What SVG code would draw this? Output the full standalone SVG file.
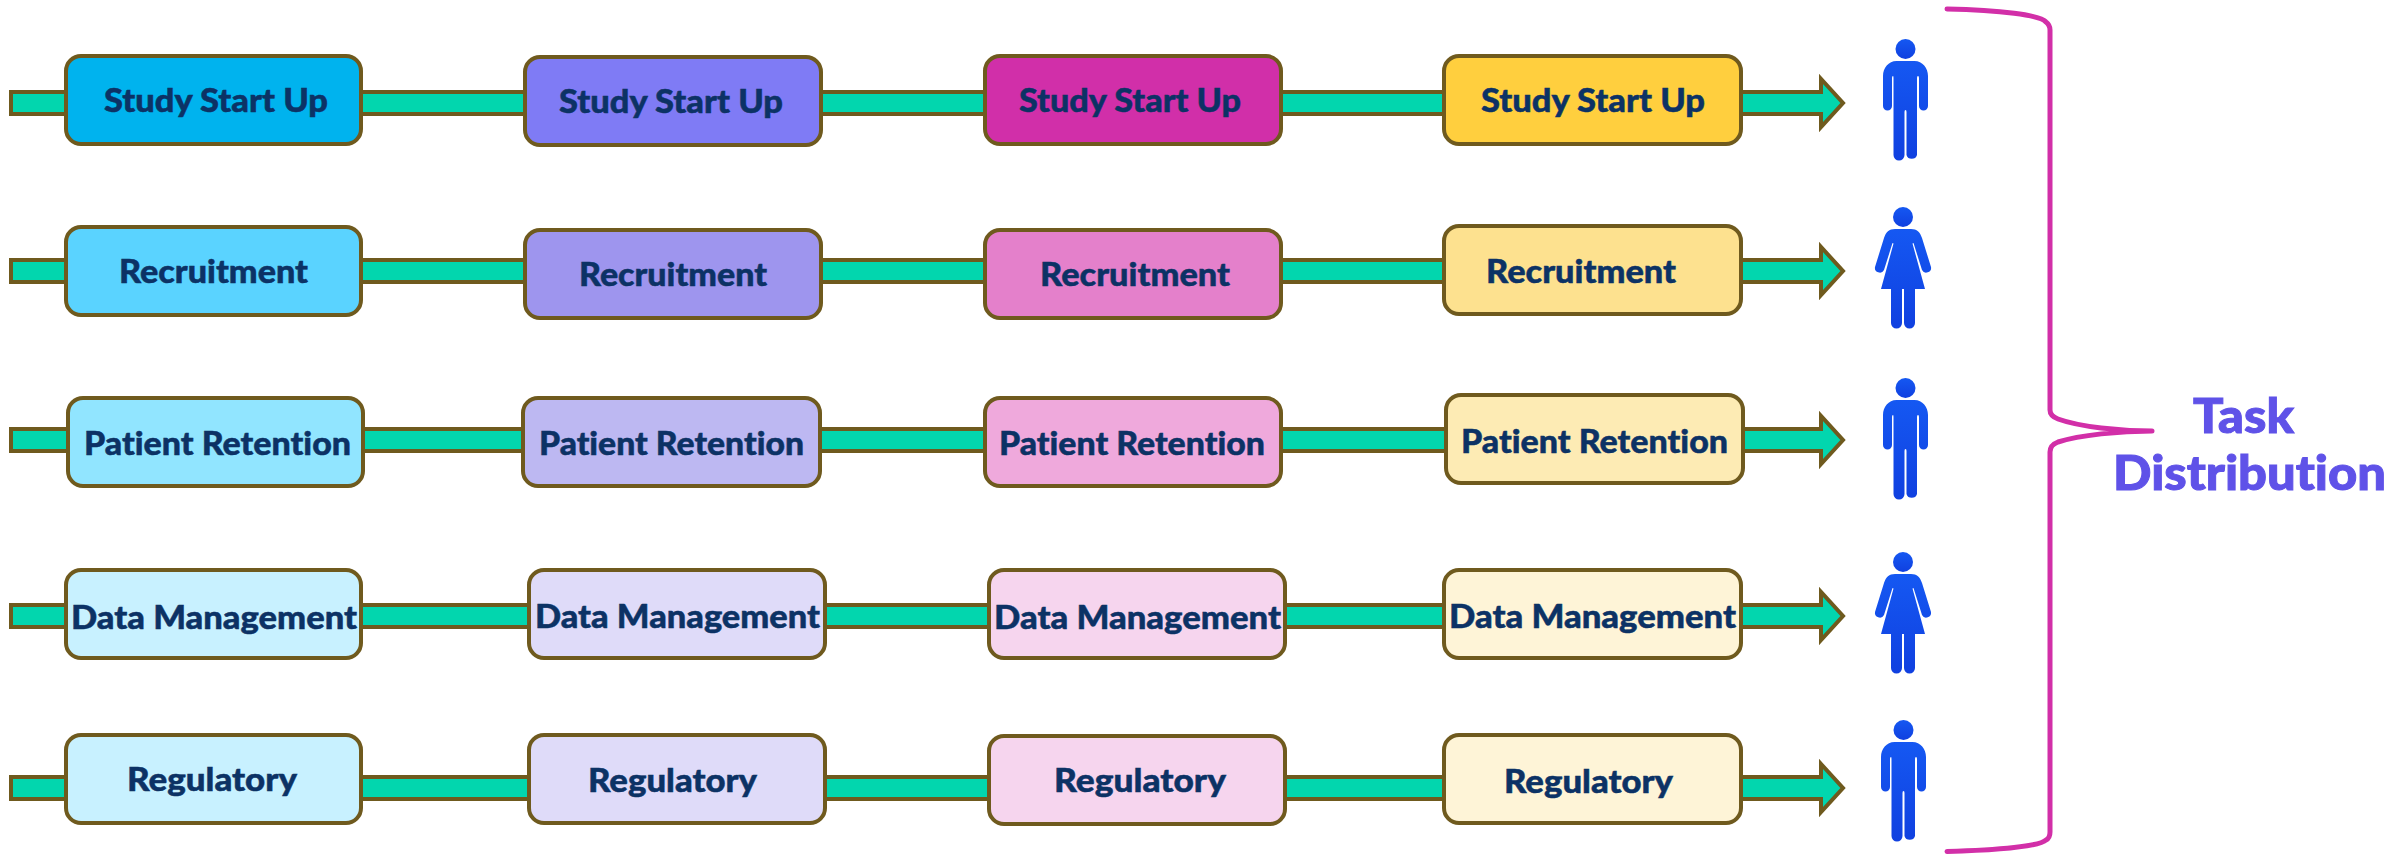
<svg xmlns="http://www.w3.org/2000/svg" width="2402" height="854" viewBox="0 0 2402 854">
<style>
.box{stroke:#6F5A1E;stroke-width:4}
.lbl{font-family:"Lato","Liberation Sans",sans-serif;font-weight:900;font-size:33px;fill:#0C3265;stroke:#0C3265;stroke-width:.5;font-variant-ligatures:none}
.arrow{fill:#02D6AE;stroke:#6F5A1E;stroke-width:4;stroke-linejoin:miter}
.brace{fill:none;stroke:#D22FA8;stroke-width:5;stroke-linecap:round;stroke-linejoin:round}
.title{font-family:"Lato","Liberation Sans",sans-serif;font-weight:900;font-size:48px;fill:#5F52E8;stroke:#5F52E8;stroke-width:1;font-variant-ligatures:none}
.person{fill:url(#pg)}
.c1a{fill:#00B3EE}.c2a{fill:#7F7BF5}.c3a{fill:#D12FA9}.c4a{fill:#FFCF3E}
.c1b{fill:#5AD3FF}.c2b{fill:#9E95EE}.c3b{fill:#E480CB}.c4b{fill:#FDE18F}
.c1c{fill:#91E5FF}.c2c{fill:#BDB8F2}.c3c{fill:#EFA9DC}.c4c{fill:#FDEBB4}
.c1d{fill:#C8F1FF}.c2d{fill:#DFDBF9}.c3d{fill:#F6D5EE}.c4d{fill:#FEF4D7}
</style>
<defs>
<linearGradient id="pg" x1="0" y1="0" x2="0" y2="1"><stop offset="0" stop-color="#1558F2"/><stop offset="1" stop-color="#1040E0"/></linearGradient>
<g id="man">
<circle cx="0" cy="0" r="10"/>
<path d="M-9 12H9C17 12 22.5 19 22.5 27V57A4.5 4.5 0 0 1 13.5 57V29Q13.5 27 12.5 27Q11.5 27 11.5 29V106A5.5 5.5 0 0 1 1 106V63Q1 61 0 61Q-1 61 -1 63V106A5.5 5.5 0 0 1 -12 106V29Q-12 27 -12.5 27Q-13.5 27 -13.5 29V57A4.5 4.5 0 0 1 -22.5 57V27C-22.5 19 -17 12 -9 12Z"/>
</g>
<g id="woman">
<circle cx="0" cy="0" r="10"/>
<path d="M-8 12H8C14 12 17 15 19 21L28 50A4.8 4.8 0 0 1 19 53L10.5 26L9.5 26.5L22 72H12V106A5.5 5.5 0 0 1 1 106V72H-1V106A5.5 5.5 0 0 1 -12 106V72H-22L-9.5 26.5L-10.5 26L-19 53A4.8 4.8 0 0 1 -28 50L-19 21C-17 15 -14 12 -8 12Z"/>
</g>
</defs>
<g id="connectors">
<path class="arrow" d="M11 92H1821V79L1843 103L1821 127V114H11Z"/>
<path class="arrow" d="M11 260H1821V247L1843 271L1821 295V282H11Z"/>
<path class="arrow" d="M11 429H1821V416L1843 440L1821 464V451H11Z"/>
<path class="arrow" d="M11 605H1821V592L1843 616L1821 640V627H11Z"/>
<path class="arrow" d="M11 777H1821V764L1843 788L1821 812V799H11Z"/>
</g>
<g id="n11"><rect class="box c1a" x="66" y="56" width="295" height="88" rx="15"/><text class="lbl" x="104" y="112" textLength="224" lengthAdjust="spacingAndGlyphs">Study Start Up</text></g>
<g id="n12"><rect class="box c2a" x="525" y="57" width="296" height="88" rx="15"/><text class="lbl" x="559" y="113" textLength="224" lengthAdjust="spacingAndGlyphs">Study Start Up</text></g>
<g id="n13"><rect class="box c3a" x="985" y="56" width="296" height="88" rx="15"/><text class="lbl" x="1019" y="112" textLength="222" lengthAdjust="spacingAndGlyphs">Study Start Up</text></g>
<g id="n14"><rect class="box c4a" x="1444" y="56" width="297" height="88" rx="15"/><text class="lbl" x="1481" y="112" textLength="224" lengthAdjust="spacingAndGlyphs">Study Start Up</text></g>
<g id="n21"><rect class="box c1b" x="66" y="227" width="295" height="88" rx="15"/><text class="lbl" x="119" y="283" textLength="189" lengthAdjust="spacingAndGlyphs">Recruitment</text></g>
<g id="n22"><rect class="box c2b" x="525" y="230" width="296" height="88" rx="15"/><text class="lbl" x="579" y="286" textLength="188" lengthAdjust="spacingAndGlyphs">Recruitment</text></g>
<g id="n23"><rect class="box c3b" x="985" y="230" width="296" height="88" rx="15"/><text class="lbl" x="1040" y="286" textLength="190" lengthAdjust="spacingAndGlyphs">Recruitment</text></g>
<g id="n24"><rect class="box c4b" x="1444" y="226" width="297" height="88" rx="15"/><text class="lbl" x="1486" y="283" textLength="190" lengthAdjust="spacingAndGlyphs">Recruitment</text></g>
<g id="n31"><rect class="box c1c" x="68" y="398" width="295" height="88" rx="15"/><text class="lbl" x="84" y="455" textLength="267" lengthAdjust="spacingAndGlyphs">Patient Retention</text></g>
<g id="n32"><rect class="box c2c" x="523" y="398" width="297" height="88" rx="15"/><text class="lbl" x="539" y="455" textLength="265" lengthAdjust="spacingAndGlyphs">Patient Retention</text></g>
<g id="n33"><rect class="box c3c" x="985" y="398" width="296" height="88" rx="15"/><text class="lbl" x="999" y="455" textLength="266" lengthAdjust="spacingAndGlyphs">Patient Retention</text></g>
<g id="n34"><rect class="box c4c" x="1446" y="395" width="297" height="88" rx="15"/><text class="lbl" x="1461" y="453" textLength="267" lengthAdjust="spacingAndGlyphs">Patient Retention</text></g>
<g id="n41"><rect class="box c1d" x="66" y="570" width="295" height="88" rx="15"/><text class="lbl" x="71" y="629" textLength="286" lengthAdjust="spacingAndGlyphs">Data Management</text></g>
<g id="n42"><rect class="box c2d" x="529" y="570" width="296" height="88" rx="15"/><text class="lbl" x="535" y="628" textLength="285" lengthAdjust="spacingAndGlyphs">Data Management</text></g>
<g id="n43"><rect class="box c3d" x="989" y="570" width="296" height="88" rx="15"/><text class="lbl" x="994" y="629" textLength="287" lengthAdjust="spacingAndGlyphs">Data Management</text></g>
<g id="n44"><rect class="box c4d" x="1444" y="570" width="297" height="88" rx="15"/><text class="lbl" x="1449" y="628" textLength="287" lengthAdjust="spacingAndGlyphs">Data Management</text></g>
<g id="n51"><rect class="box c1d" x="66" y="735" width="295" height="88" rx="15"/><text class="lbl" x="127" y="791" textLength="170" lengthAdjust="spacingAndGlyphs">Regulatory</text></g>
<g id="n52"><rect class="box c2d" x="529" y="735" width="296" height="88" rx="15"/><text class="lbl" x="588" y="792" textLength="169" lengthAdjust="spacingAndGlyphs">Regulatory</text></g>
<g id="n53"><rect class="box c3d" x="989" y="736" width="296" height="88" rx="15"/><text class="lbl" x="1054" y="792" textLength="172" lengthAdjust="spacingAndGlyphs">Regulatory</text></g>
<g id="n54"><rect class="box c4d" x="1444" y="735" width="297" height="88" rx="15"/><text class="lbl" x="1504" y="793" textLength="169" lengthAdjust="spacingAndGlyphs">Regulatory</text></g>
<g id="person1" class="person"><use href="#man" transform="translate(1905.5 49)"/></g>
<g id="person2" class="person"><use href="#woman" transform="translate(1903 217)"/></g>
<g id="person3" class="person"><use href="#man" transform="translate(1905.5 388)"/></g>
<g id="person4" class="person"><use href="#woman" transform="translate(1903 562)"/></g>
<g id="person5" class="person"><use href="#man" transform="translate(1903.5 730)"/></g>
<g id="brace"><path class="brace" d="M1947 9C2000 10 2040 15 2046 22Q2050 25 2050 30V410Q2050 416 2058 419C2080 427 2120 431 2152 431C2120 431 2080 435 2058 442Q2050 445 2050 452V832Q2050 838 2046 840C2040 846 2000 850 1947 851.5"/></g>
<g id="task"><text class="title" x="2193" y="433" textLength="101" lengthAdjust="spacingAndGlyphs">Task</text><text class="title" x="2113" y="490" textLength="273" lengthAdjust="spacingAndGlyphs">Distribution</text></g>
</svg>
